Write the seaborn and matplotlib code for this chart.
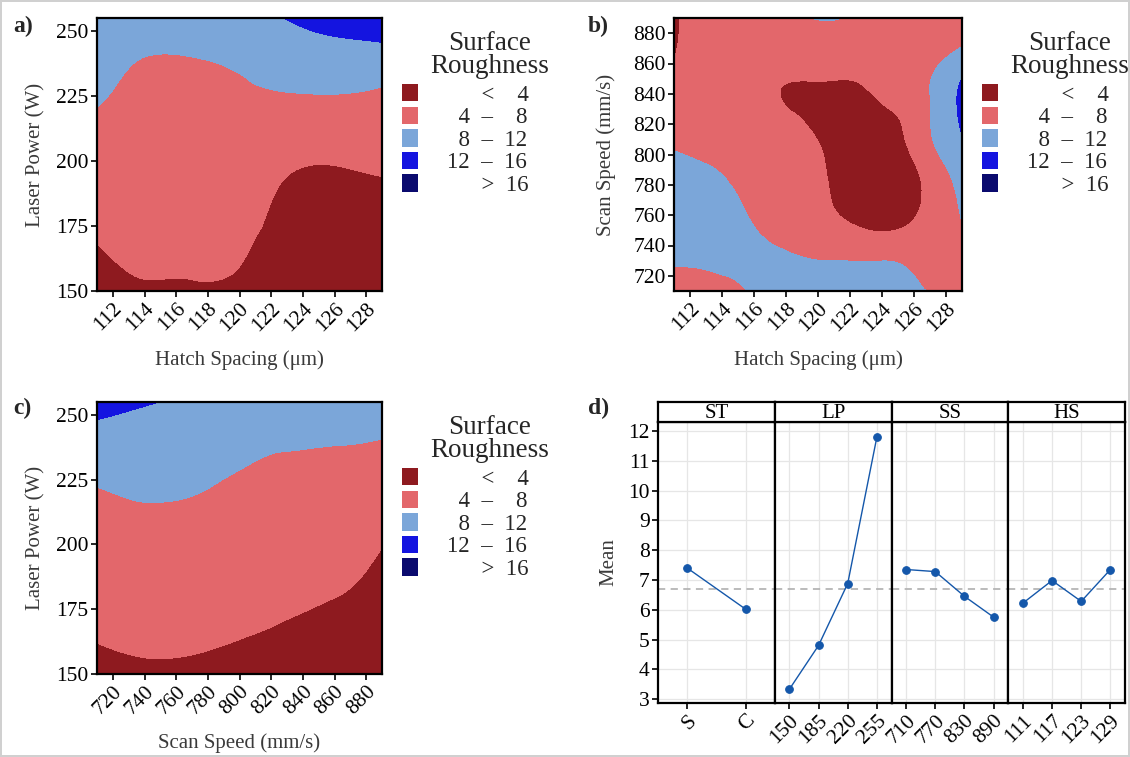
# -----------------------------------------------
# Surface roughness contour maps + main effects plot
# -----------------------------------------------

import numpy as np
import pandas as pd
import matplotlib
matplotlib.use('Agg')
import matplotlib.pyplot as plt
import seaborn as sns
from matplotlib.patches import Patch
from matplotlib.tri import Triangulation, UniformTriRefiner, CubicTriInterpolator

# -----------------------------
# Data
# -----------------------------
# contour grids: roughness estimates (rows = y, bottom to top)
hs_a = [111, 114, 117, 120, 123, 126, 129]
lp_a = [150, 165, 180, 195, 210, 225, 240, 255]
ra_a = [
    [3.0, 3.8, 3.8, 3.4, 2.0, 2.0, 2.2],
    [3.8, 4.5, 4.5, 4.3, 2.4, 2.3, 2.5],
    [4.9, 5.2, 5.2, 5.3, 3.0, 2.8, 3.0],
    [6.1, 5.9, 5.9, 6.0, 4.1, 3.6, 4.1],
    [7.2, 6.6, 6.6, 6.8, 6.0, 5.8, 5.8],
    [8.3, 7.3, 7.3, 7.6, 7.8, 7.9, 7.4],
    [9.3, 8.0, 8.0, 8.5, 9.9, 10.5, 10.7],
    [10.3, 9.6, 9.9, 10.8, 12.1, 13.3, 14.0],
]

hs_b = [111, 113, 115, 117, 119, 121, 123, 125, 127, 129]
ss_b = [710, 730, 750, 770, 790, 810, 830, 850, 870, 890]
ra_b = [
    [7.2, 7.3, 7.6, 9.0, 8.8, 8.7, 8.6, 8.4, 7.95, 7.0],
    [8.2, 8.3, 8.6, 8.4, 8.1, 8.0, 7.9, 7.8, 6.8, 7.2],
    [9.0, 9.0, 8.7, 7.6, 7.0, 5.5, 4.1, 4.1, 5.6, 7.8],
    [9.2, 9.0, 8.1, 6.8, 6.2, 3.8, 3.0, 2.8, 4.8, 8.6],
    [8.6, 8.2, 7.2, 6.2, 6.0, 3.4, 2.9, 2.6, 5.6, 10.0],
    [7.6, 7.2, 6.6, 5.6, 5.0, 3.0, 3.0, 3.4, 7.6, 11.8],
    [6.4, 6.4, 6.0, 4.5, 3.7, 3.0, 3.4, 4.4, 7.9, 12.8],
    [4.8, 6.0, 5.8, 4.5, 4.1, 4.1, 4.4, 6.0, 7.9, 12.0],
    [3.7, 6.0, 6.0, 5.8, 6.0, 6.3, 6.2, 6.6, 6.8, 8.2],
    [3.4, 6.2, 6.6, 7.0, 7.8, 8.1, 7.4, 7.0, 6.6, 7.2],
]

ss_c = [710, 740, 770, 800, 830, 860, 890]
lp_c = [150, 165, 180, 195, 210, 225, 240, 255]
ra_c = [
    [3.2, 3.6, 3.5, 3.2, 2.8, 2.4, 1.8],
    [4.2, 4.55, 4.5, 4.1, 3.7, 3.1, 2.4],
    [5.2, 5.5, 5.45, 5.0, 4.5, 4.05, 3.0],
    [6.2, 6.5, 6.4, 5.9, 5.4, 5.1, 3.75],
    [7.25, 7.5, 7.4, 6.8, 6.2, 6.1, 5.0],
    [8.3, 8.8, 8.5, 7.75, 7.4, 7.1, 6.4],
    [10.7, 10.4, 10.0, 9.1, 8.4, 8.2, 7.9],
    [13.0, 12.2, 11.6, 11.6, 11.9, 11.0, 10.5],
]

# main effects (mean roughness per factor level)
st_levels = ['S', 'C']
st_means = [7.40, 6.02]
lp_levels = ['150', '185', '220', '255']
lp_means = [3.33, 4.80, 6.88, 11.80]
ss_levels = ['710', '770', '830', '890']
ss_means = [7.35, 7.28, 6.45, 5.75]
hs_levels = ['111', '117', '123', '129']
hs_means = [6.22, 6.98, 6.28, 7.35]

level_bounds = [-100, 4, 8, 12, 16, 100]
level_colors = ['#8E1A1F', '#E3676B', '#7BA6D9', '#1414E0', '#0A0A6E']
D = '  '  # two spaces ~ one digit
level_labels = [D + D + '  <  ' + D + '4',
                D + '4  –  ' + D + '8',
                D + '8  –  12',
                '12  –  16',
                D + D + '  >  16']

# -----------------------------
# Style
# -----------------------------
sns.set_theme(style='white')
plt.rcParams['font.family'] = ['Liberation Serif', 'DejaVu Serif']
plt.rcParams['axes.unicode_minus'] = False

W, H = 1130, 757
fig = plt.figure(figsize=(W / 100, H / 100), dpi=100)
fig.patch.set_facecolor('white')

LABEL_COL = '#3a3a3a'
TICK_FS = 15.5
LAB_FS = 15
LEG_FS = 16.5


def px_axes(l, t, r, b):
    return fig.add_axes([l / W, 1 - b / H, (r - l) / W, (b - t) / H])


def draw_map(ax, xs, ys, z, xticks, yticks, xlabel, ylabel, box, ylab_off):
    xs = np.asarray(xs, float)
    ys = np.asarray(ys, float)
    z = np.asarray(z, float).ravel()
    X, Y = np.meshgrid(xs, ys)
    # triangulate on unit square, smooth with cubic refinement
    xn = ((X - xs[0]) / (xs[-1] - xs[0])).ravel()
    yn = ((Y - ys[0]) / (ys[-1] - ys[0])).ravel()
    tri = Triangulation(xn, yn)
    interp = CubicTriInterpolator(tri, z, kind='min_E')
    tri_f, z_f = UniformTriRefiner(tri).refine_field(z, triinterpolator=interp, subdiv=4)
    tri_d = Triangulation(xs[0] + tri_f.x * (xs[-1] - xs[0]),
                          ys[0] + tri_f.y * (ys[-1] - ys[0]),
                          triangles=tri_f.triangles)
    ax.tricontourf(tri_d, z_f, levels=level_bounds, colors=level_colors, antialiased=False)
    ax.set_xlim(xs[0], xs[-1])
    ax.set_ylim(ys[0], ys[-1])
    ax.set_xticks(xticks)
    ax.set_yticks(yticks)
    ax.set_xticklabels([str(t) for t in xticks], rotation=45, ha='right',
                       rotation_mode='anchor', fontsize=TICK_FS, color='black')
    ax.set_yticklabels([str(t) for t in yticks], fontsize=TICK_FS, color='black')
    ax.tick_params(axis='both', direction='out', length=4, width=1.2, color='black',
                   bottom=True, left=True, pad=2)
    for s in ax.spines.values():
        s.set_color('black')
        s.set_linewidth(1.6)
    l, t, r, b = box
    w, h = r - l, b - t
    ax.set_xlabel(xlabel, fontsize=LAB_FS, color=LABEL_COL, va='top')
    ax.xaxis.set_label_coords(0.5, -59 / h)
    ax.set_ylabel(ylabel, fontsize=LAB_FS, color=LABEL_COL)
    ax.yaxis.set_label_coords(-ylab_off / w, 0.5)

    handles = [Patch(facecolor=c, edgecolor='none') for c in level_colors]
    ax.legend(handles, level_labels, loc='upper left',
              bbox_to_anchor=(1 + 20 / w, 1 - 66 / h), frameon=False,
              borderpad=0, borderaxespad=0, handlelength=0.7, handleheight=0.79,
              handletextpad=1.25, labelspacing=0.04, fontsize=LEG_FS)
    ax.text(1 + 108 / w, 1 - 13 / h, 'Surface\nRoughness', transform=ax.transAxes,
            ha='center', va='top', fontsize=19.5, linespacing=0.92)


# -----------------------------
# Panels a, b, c: contour maps
# -----------------------------
box_a = (97, 18, 382, 291)
ax_a = px_axes(*box_a)
draw_map(ax_a, hs_a, lp_a, ra_a, list(range(112, 129, 2)), [150, 175, 200, 225, 250],
         'Hatch Spacing (μm)', 'Laser Power (W)', box_a, 52)

box_b = (674, 18, 962, 291)
ax_b = px_axes(*box_b)
draw_map(ax_b, hs_b, ss_b, ra_b, list(range(112, 129, 2)), list(range(720, 881, 20)),
         'Hatch Spacing (μm)', 'Scan Speed (mm/s)', box_b, 58)

box_c = (97, 402, 382, 674)
ax_c = px_axes(*box_c)
draw_map(ax_c, ss_c, lp_c, ra_c, list(range(720, 881, 20)), [150, 175, 200, 225, 250],
         'Scan Speed (mm/s)', 'Laser Power (W)', box_c, 52)

# -----------------------------
# Panel d: main effects
# -----------------------------
facets = [('ST', st_levels, st_means), ('LP', lp_levels, lp_means),
          ('SS', ss_levels, ss_means), ('HS', hs_levels, hs_means)]
grand_mean = np.mean(st_means)

d_left, d_right, d_top, d_strip, d_bottom = 658, 1125, 402, 422, 703
fw = (d_right - d_left) / len(facets)
line_col = '#1457AA'

for i, (name, cats, vals) in enumerate(facets):
    l = d_left + i * fw
    ax = px_axes(l, d_strip, l + fw, d_bottom)
    df = pd.DataFrame({'level': cats, 'mean': vals})
    ax.axhline(grand_mean, color='#b5b5b5', ls=(0, (4, 3)), lw=1.3, zorder=1)
    sns.pointplot(data=df, x='level', y='mean', order=cats, ax=ax, color=line_col,
                  markers='o', markersize=5.5, linewidth=1.0, errorbar=None)
    ax.set_xlim(-0.5, len(cats) - 0.5)
    ax.set_ylim(2.87, 12.3)
    ax.set_yticks(range(3, 13))
    ax.grid(True, color='#e6e6e6', lw=0.9)
    ax.set_axisbelow(True)
    ax.set_xlabel('')
    ax.set_ylabel('')
    ax.set_xticks(range(len(cats)))
    ax.set_xticklabels(cats, rotation=45, ha='right', rotation_mode='anchor',
                       fontsize=TICK_FS, color='black')
    ax.tick_params(axis='x', direction='out', length=4, width=1.2, color='black',
                   bottom=True, pad=2)
    if i == 0:
        ax.tick_params(axis='y', direction='out', length=4, width=1.2, color='black',
                       left=True, labelsize=TICK_FS, labelcolor='black', pad=2)
        ax.set_ylabel('Mean', fontsize=LAB_FS, color=LABEL_COL)
        ax.yaxis.set_label_coords(-40 / fw, 0.5)
    else:
        ax.tick_params(axis='y', left=False, labelleft=False)
    for s in ax.spines.values():
        s.set_color('black')
        s.set_linewidth(1.6)

    # facet strip
    sax = px_axes(l, d_top, l + fw, d_strip)
    sax.set_facecolor('white')
    sax.set_xticks([])
    sax.set_yticks([])
    for s in sax.spines.values():
        s.set_color('black')
        s.set_linewidth(1.6)
    sax.text(0.5, 0.42, name, transform=sax.transAxes, ha='center', va='center',
             fontsize=15, color='black')

# panel tags
for tag, x, y in [('a)', 13, 26), ('b)', 588, 26), ('c)', 13, 408), ('d)', 588, 408)]:
    fig.text(x / W, 1 - y / H, tag, fontsize=17, fontweight='bold', va='center', ha='left')

# thin outer frame
fig.patch.set_edgecolor('#d0d0d0')
fig.patch.set_linewidth(1.5)

plt.savefig('out.png', dpi=100, facecolor=fig.get_facecolor(), edgecolor=fig.get_edgecolor())
